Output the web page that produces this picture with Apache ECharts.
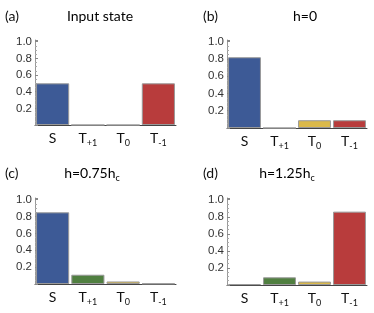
<!DOCTYPE html>
<html>
<head>
<meta charset="utf-8">
<script src="https://cdn.jsdelivr.net/npm/echarts@6/dist/echarts.min.js"></script>
<style>html,body{margin:0;padding:0;background:#fff}#c{width:374px;height:313px}</style>
</head>
<body>
<div id="c"></div>
<script>
const categories = ['S', 'T+1', 'T0', 'T-1'];
const panelLabels = ['(a)', '(b)', '(c)', '(d)'];
const panelTitles = ['Input state', 'h=0', 'h=0.75h_c', 'h=1.25h_c'];
const valuesA = [0.5, 0, 0, 0.5];
const valuesB = [0.82, 0, 0.09, 0.09];
const valuesC = [0.85, 0.11, 0.03, 0.005];
const valuesD = [0.01, 0.09, 0.04, 0.86];
const yTickValues = [0.2, 0.4, 0.6, 0.8, 1.0];
const barColors = ['#3d5a96', '#507f40', '#dbb94a', '#b83c3c'];

const allValues = [valuesA, valuesB, valuesC, valuesD];
const grids = [
  {left: 35, top: 40, width: 141, height: 85},
  {left: 227, top: 40, width: 140, height: 88},
  {left: 35, top: 198, width: 141, height: 86},
  {left: 227, top: 198, width: 140, height: 87}
];
const titlePos = [
  {lx: 5, cx: 100, y: 16},
  {lx: 203, cx: 305, y: 16},
  {lx: 5, cx: 92, y: 173},
  {lx: 203, cx: 287, y: 173}
];

function catLabel(c) {
  if (c === 'S') return '{m|S}';
  return '{m|' + c[0] + '}{s|' + c.slice(1) + '}';
}
function titleRich(t) {
  const i = t.indexOf('_');
  if (i < 0) return '{m|' + t + '}';
  return '{m|' + t.slice(0, i) + '}{s|' + t.slice(i + 1) + '}';
}
const labelFont = 'Lato, "Open Sans", sans-serif';
const rich = {
  m: {fontFamily: labelFont, fontSize: 14, color: '#111', lineHeight: 20, verticalAlign: 'middle'},
  s: {fontFamily: labelFont, fontSize: 9, color: '#111', lineHeight: 9, verticalAlign: 'bottom'}
};

const xAxis = [], yAxis = [], series = [], graphic = [];
grids.forEach((g, i) => {
  xAxis.push({
    type: 'category', gridIndex: i, data: categories,
    axisLine: {lineStyle: {color: '#444', width: 1}},
    axisTick: {show: false},
    axisLabel: {margin: 3, formatter: catLabel, rich: rich, interval: 0}
  });
  yAxis.push({
    type: 'value', gridIndex: i, min: 0, max: 1.02, interval: 0.2,
    splitLine: {show: false},
    axisLine: {show: true, lineStyle: {color: '#999'}},
    axisTick: {show: true, inside: true, length: 3, lineStyle: {color: '#888'}},
    minorTick: {show: true, splitNumber: 4, length: 2, lineStyle: {color: '#aaa'}},
    axisLabel: {
      customValues: yTickValues, hideOverlap: false,
      margin: 3, fontFamily: 'Liberation Sans, Arial, sans-serif', fontSize: 11.5, color: '#333',
      formatter: v => v.toFixed(1)
    }
  });
  series.push({
    type: 'bar', xAxisIndex: i, yAxisIndex: i,
    barCategoryGap: '6%',
    data: allValues[i].map((v, k) => ({value: v, itemStyle: {color: barColors[k]}})),
    itemStyle: {borderColor: '#999', borderWidth: 1},
    silent: true, animation: false
  });
  const tp = titlePos[i];
  graphic.push({
    type: 'text', x: tp.lx, y: tp.y,
    style: {text: panelLabels[i], font: '14px ' + labelFont, fill: '#111', textVerticalAlign: 'middle'}
  });
  graphic.push({
    type: 'text', x: tp.cx, y: tp.y,
    style: {text: titleRich(panelTitles[i]), rich: rich, textAlign: 'center', textVerticalAlign: 'middle'}
  });
});

const chart = echarts.init(document.getElementById('c'), null, {renderer: 'canvas'});
chart.setOption({
  animation: false,
  grid: grids.map(g => Object.assign({containLabel: false}, g)),
  xAxis, yAxis, series, graphic
});
</script>
</body>
</html>
